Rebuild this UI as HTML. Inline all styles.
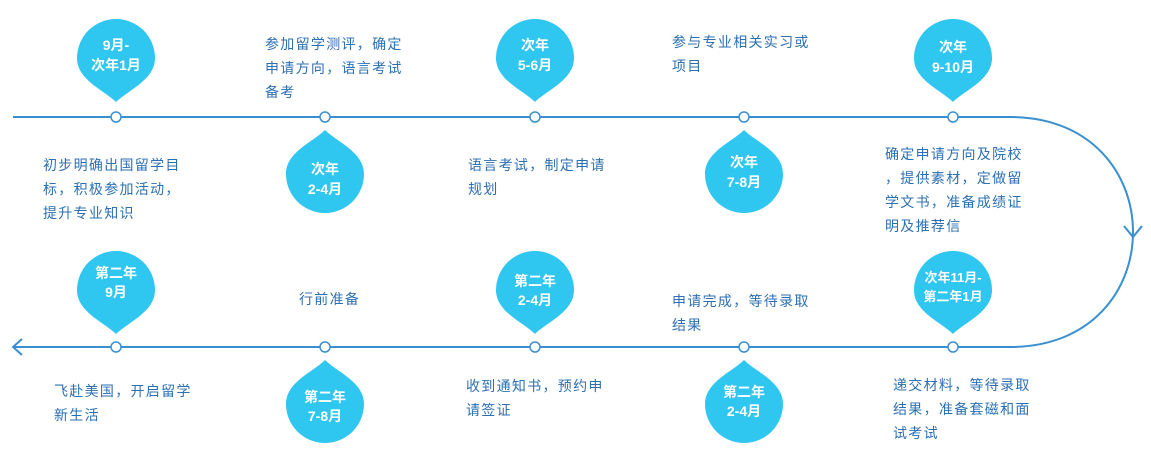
<!DOCTYPE html>
<html><head><meta charset="utf-8"><style>
html,body{margin:0;padding:0;background:#fff;}
svg{display:block;}
.t{font-family:"Liberation Sans","Noto Sans CJK SC",sans-serif;font-size:14px;fill:#2c6fb2;letter-spacing:1.3px;}
.d{font-family:"Liberation Sans","Noto Sans CJK SC",sans-serif;font-size:14px;font-weight:bold;fill:#fff;text-anchor:middle;}
</style></head><body>
<svg width="1151" height="469" viewBox="0 0 1151 469" xmlns="http://www.w3.org/2000/svg">
<defs>
<path id="dn" d="M0,44 C-12,32 -39,22 -39,0 A39,39 0 0 1 39,0 C39,22 12,32 0,44 Z" fill="#2fc6f0"/>
<path id="up" d="M0,-44 C-12,-32 -39,-22 -39,0 A39,39 0 0 0 39,0 C39,-22 12,-32 0,-44 Z" fill="#2fc6f0"/>
</defs>
<path d="M13 117 H1010 C1174 117 1174 347 1010 347 H13" fill="none" stroke="#3a8fd0" stroke-width="2"/>
<path d="M1124 226 L1133 237 L1142 226" fill="none" stroke="#3a8fd0" stroke-width="2"/>
<path d="M22 339 L13 347 L22 355" fill="none" stroke="#3a8fd0" stroke-width="2"/>
<g fill="#fff" stroke="#3a8fd0" stroke-width="1.5">
<circle cx="116" cy="117" r="5"/><circle cx="325" cy="117" r="5"/><circle cx="535" cy="117" r="5"/><circle cx="744" cy="117" r="5"/><circle cx="953" cy="117" r="5"/>
<circle cx="116" cy="347" r="5"/><circle cx="325" cy="347" r="5"/><circle cx="535" cy="347" r="5"/><circle cx="744" cy="347" r="5"/><circle cx="953" cy="347" r="5"/>
</g>
<use href="#dn" x="116" y="58"/><use href="#dn" x="535" y="58"/><use href="#dn" x="953" y="58"/>
<use href="#up" x="325" y="174"/><use href="#up" x="744" y="174"/>
<use href="#dn" x="116" y="290"/><use href="#dn" x="535" y="290"/><use href="#dn" x="953" y="290"/>
<use href="#up" x="325" y="404"/><use href="#up" x="744" y="404"/>
<text class="d" x="116" y="50">9月-</text><text class="d" x="116" y="70">次年1月</text>
<text class="d" x="535" y="50">次年</text><text class="d" x="535" y="70">5-6月</text>
<text class="d" x="953" y="52">次年</text><text class="d" x="953" y="72">9-10月</text>
<text class="d" x="325" y="174">次年</text><text class="d" x="325" y="194">2-4月</text>
<text class="d" x="744" y="167">次年</text><text class="d" x="744" y="187">7-8月</text>
<text class="d" x="116" y="278">第二年</text><text class="d" x="116" y="297">9月</text>
<text class="d" x="535" y="286">第二年</text><text class="d" x="535" y="305">2-4月</text>
<text class="d" x="953" y="282" style="font-size:13px">次年11月-</text><text class="d" x="953" y="301" style="font-size:13px">第二年1月</text>
<text class="d" x="325" y="402">第二年</text><text class="d" x="325" y="421">7-8月</text>
<text class="d" x="744" y="397">第二年</text><text class="d" x="744" y="416">2-4月</text>
<g class="t">
<text x="43" y="170">初步明确出国留学目</text><text x="43" y="194">标，积极参加活动，</text><text x="43" y="218">提升专业知识</text>
<text x="265" y="49">参加留学测评，确定</text><text x="265" y="73">申请方向，语言考试</text><text x="265" y="97">备考</text>
<text x="468" y="170">语言考试，制定申请</text><text x="468" y="194">规划</text>
<text x="672" y="47">参与专业相关实习或</text><text x="672" y="71">项目</text>
<text x="885" y="159">确定申请方向及院校</text><text x="885" y="183">，提供素材，定做留</text><text x="885" y="207">学文书，准备成绩证</text><text x="885" y="231">明及推荐信</text>
<text x="299" y="304">行前准备</text>
<text x="672" y="306">申请完成，等待录取</text><text x="672" y="330">结果</text>
<text x="54" y="396">飞赴美国，开启留学</text><text x="54" y="420">新生活</text>
<text x="466" y="391">收到通知书，预约申</text><text x="466" y="415">请签证</text>
<text x="893" y="390">递交材料，等待录取</text><text x="893" y="414">结果，准备套磁和面</text><text x="893" y="438">试考试</text>
</g>
</svg>
</body></html>
